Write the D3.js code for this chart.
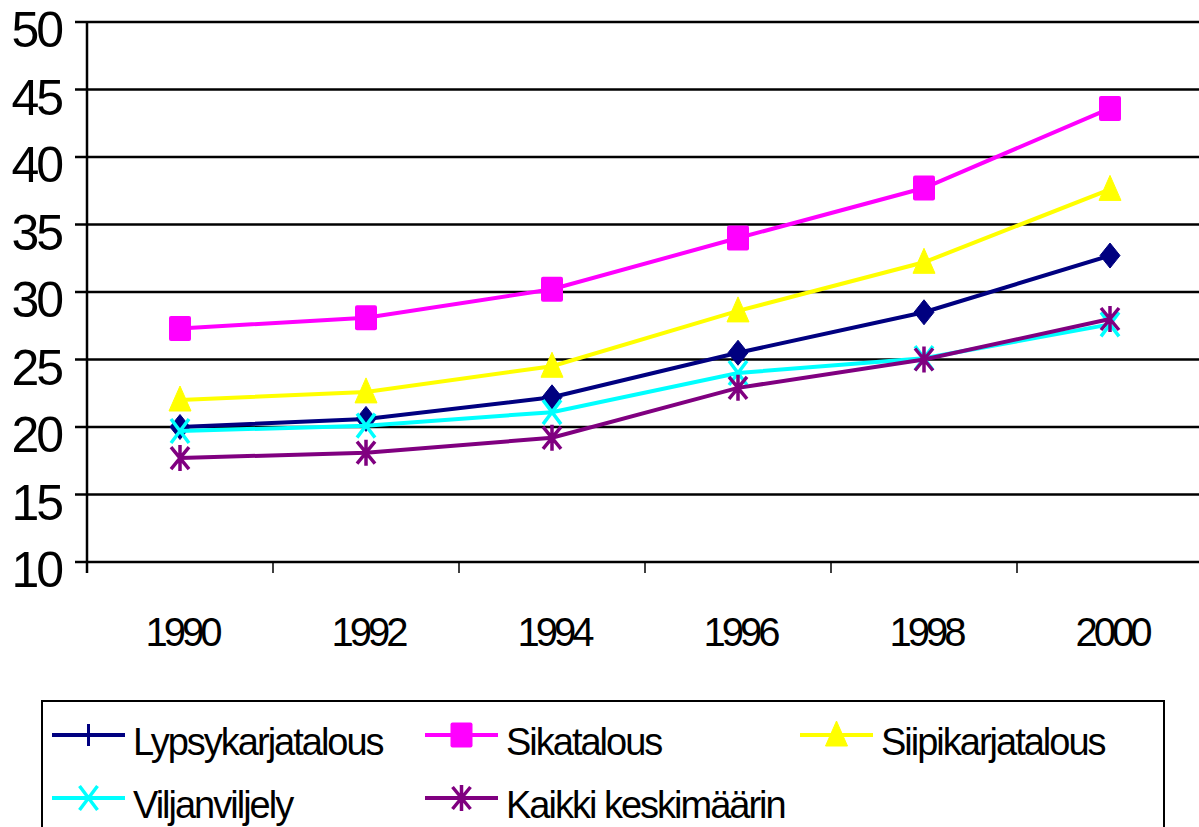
<!DOCTYPE html>
<html>
<head>
<meta charset="utf-8">
<script src="https://cdn.jsdelivr.net/npm/d3@7"></script>
<style>
  html, body { margin: 0; padding: 0; background: #fff; }
  svg { display: block; font-family: "Liberation Sans", Arial, sans-serif; }
</style>
</head>
<body>
<svg id="chart" width="1199" height="827"></svg>
<script>
// ---- data ----
const years = ["1990", "1992", "1994", "1996", "1998", "2000"];
const lypsykarjatalous = [20.0, 20.6, 22.2, 25.5, 28.5, 32.7];
const sikatalous       = [27.3, 28.1, 30.2, 34.0, 37.7, 43.6];
const siipikarjatalous = [22.0, 22.6, 24.5, 28.6, 32.2, 37.6];
const viljanviljely    = [19.7, 20.1, 21.1, 24.0, 25.1, 27.6];
const kaikki           = [17.7, 18.1, 19.2, 22.9, 25.0, 28.0];
const yTicks = [10, 15, 20, 25, 30, 35, 40, 45, 50];
const seriesNames = ["Lypsykarjatalous", "Sikatalous", "Siipikarjatalous", "Viljanviljely", "Kaikki keskimäärin"];

const series = [
  { name: seriesNames[0], values: lypsykarjatalous, color: "#000080", marker: "diamond", legendMarker: "tick" },
  { name: seriesNames[1], values: sikatalous,       color: "#FF00FF", marker: "square",  legendMarker: "square" },
  { name: seriesNames[2], values: siipikarjatalous, color: "#FFFF00", marker: "triangle", legendMarker: "triangle" },
  { name: seriesNames[3], values: viljanviljely,    color: "#00FFFF", marker: "x",       legendMarker: "x" },
  { name: seriesNames[4], values: kaikki,           color: "#800080", marker: "star",    legendMarker: "star" }
];

// ---- layout ----
const svg = d3.select("#chart");
const plot = { left: 87, right: 1203, top: 22, bottom: 562 };

const x = d3.scaleBand().domain(years).range([plot.left, plot.right]).padding(0);
const y = d3.scaleLinear().domain([10, 50]).range([plot.bottom, plot.top]);

// gridlines + y ticks
svg.append("g").selectAll("line").data(yTicks).join("line")
  .attr("x1", plot.left - 12).attr("x2", 1199)
  .attr("y1", d => y(d)).attr("y2", d => y(d))
  .attr("stroke", "#000").attr("stroke-width", 2.5);

// y axis
svg.append("line")
  .attr("x1", plot.left).attr("x2", plot.left)
  .attr("y1", plot.top).attr("y2", plot.bottom + 11)
  .attr("stroke", "#000").attr("stroke-width", 2.5);

// x ticks at category boundaries
const bounds = years.map(d => x(d)).concat([x(years[years.length - 1]) + x.bandwidth()]);
svg.append("g").selectAll("line").data(bounds).join("line")
  .attr("x1", d => d).attr("x2", d => d)
  .attr("y1", plot.bottom).attr("y2", plot.bottom + 11)
  .attr("stroke", "#000").attr("stroke-width", 1.5);

// y labels
svg.append("g").selectAll("text").data(yTicks).join("text")
  .attr("x", 61).attr("y", d => y(d) + 25)
  .attr("text-anchor", "end")
  .attr("font-size", 50).attr("letter-spacing", -3)
  .text(d => d);

// x labels
svg.append("g").selectAll("text").data(years).join("text")
  .attr("x", d => x(d) + x.bandwidth() / 2 + 2).attr("y", 646)
  .attr("text-anchor", "middle")
  .attr("font-size", 40).attr("letter-spacing", -4)
  .text(d => d);

// ---- markers ----
function drawMarker(g, type, cx, cy, color) {
  if (type === "diamond") {
    g.append("path").attr("d", `M${cx},${cy-12.5}L${cx+10},${cy}L${cx},${cy+12.5}L${cx-10},${cy}Z`)
      .attr("fill", color).attr("stroke", color).attr("stroke-width", 1).attr("stroke-linejoin", "round");
  } else if (type === "square") {
    g.append("rect").attr("x", cx - 11).attr("y", cy - 12.5).attr("width", 22).attr("height", 25)
      .attr("rx", 2).attr("fill", color);
  } else if (type === "triangle") {
    g.append("path").attr("d", `M${cx},${cy-14}L${cx+11},${cy+11}L${cx-11},${cy+11}Z`)
      .attr("fill", color).attr("stroke", color).attr("stroke-width", 1).attr("stroke-linejoin", "round");
  } else if (type === "x") {
    g.append("path").attr("d", `M${cx-9},${cy-12}L${cx+9},${cy+12}M${cx+9},${cy-12}L${cx-9},${cy+12}`)
      .attr("stroke", color).attr("stroke-width", 3.5).attr("fill", "none");
  } else if (type === "star") {
    g.append("path").attr("d", `M${cx-9},${cy-11}L${cx+9},${cy+11}M${cx+9},${cy-11}L${cx-9},${cy+11}M${cx},${cy-13}L${cx},${cy+13}`)
      .attr("stroke", color).attr("stroke-width", 3.5).attr("fill", "none");
  } else if (type === "tick") {
    g.append("path").attr("d", `M${cx},${cy-11}L${cx},${cy+11}`)
      .attr("stroke", color).attr("stroke-width", 3).attr("fill", "none");
  }
}

// ---- lines ----
const line = d3.line().x((d, i) => x(years[i]) + x.bandwidth() / 2).y(d => y(d));
series.forEach(s => {
  const g = svg.append("g");
  g.append("path").datum(s.values).attr("d", line)
    .attr("fill", "none").attr("stroke", s.color).attr("stroke-width", 4);
  s.values.forEach((v, i) => drawMarker(g, s.marker, x(years[i]) + x.bandwidth() / 2, y(v), s.color));
});

// ---- legend ----
const legend = svg.append("g");
legend.append("rect").attr("x", 42).attr("y", 701).attr("width", 1122).attr("height", 160)
  .attr("fill", "#fff").attr("stroke", "#000").attr("stroke-width", 2);

const colX = [52, 425, 800];
const rowY = [735, 798];
series.forEach((s, i) => {
  const cx = colX[i % 3], cy = rowY[Math.floor(i / 3)];
  const g = legend.append("g");
  g.append("line").attr("x1", cx).attr("x2", cx + 73).attr("y1", cy).attr("y2", cy)
    .attr("stroke", s.color).attr("stroke-width", 4);
  drawMarker(g, s.legendMarker, cx + 36.5, cy, s.color);
  g.append("text").attr("x", cx + 81).attr("y", cy + 20)
    .attr("font-size", 38).attr("letter-spacing", -2)
    .text(s.name);
});
</script>
</body>
</html>
